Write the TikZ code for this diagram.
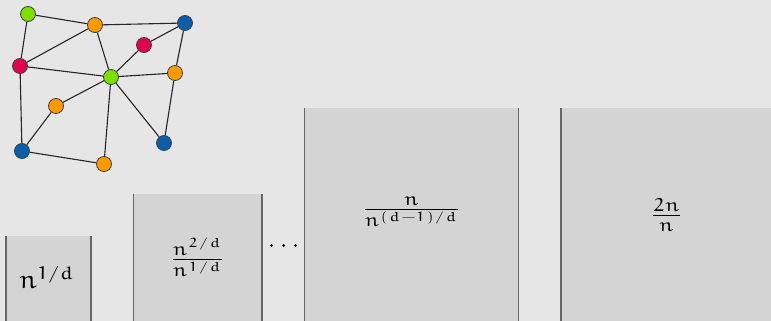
\documentclass[tikz,border=0pt]{standalone}
\usepackage{amsmath}
\usepackage{euler}
\usetikzlibrary{positioning}

\definecolor{bgcol}{HTML}{E6E6E6}
\definecolor{boxcol}{HTML}{D4D4D4}
\definecolor{wallcol}{HTML}{666666}
\definecolor{vgreen}{HTML}{7BE000}
\definecolor{vorange}{HTML}{FF9900}
\definecolor{vblue}{HTML}{0B5EA8}
\definecolor{vred}{HTML}{E0044F}

\newcommand{\bigmath}[2]{\scalebox{#1}{$#2$}}

\begin{document}
\begin{tikzpicture}[x=1pt,y=-1pt,
	vert/.style={circle,draw=black!75,line width=0.8pt,minimum size=15pt,inner sep=0pt},
	edge/.style={draw=black!85,line width=1.1pt},
	wall/.style={draw=wallcol,line width=1.4pt},
	lbl/.style={inner sep=0pt}]
	
	\fill[bgcol] (0,0) rectangle (771,321);
	\useasboundingbox (0,0) rectangle (771,321);
	
	% graph
	\node[vert,fill=vgreen] (g1) at (28,14){};
	\node[vert,fill=vorange] (o1) at (95,25){};
	\node[vert,fill=vblue] (b1) at (185,23){};
	\node[vert,fill=vred] (r1) at (144,45){};
	\node[vert,fill=vred] (r2) at (20,66){};
	\node[vert,fill=vgreen] (g2) at (111,77){};
	\node[vert,fill=vorange] (o2) at (175,73){};
	\node[vert,fill=vorange] (o3) at (56,106){};
	\node[vert,fill=vblue] (b2) at (164,143){};
	\node[vert,fill=vblue] (b3) at (22,151){};
	\node[vert,fill=vorange] (o4) at (104,164){};
	
	\foreach \a/\b in {g1/o1,g1/r2,o1/b1,o1/r2,o1/g2,b1/r1,b1/o2,r1/g2,r2/g2,r2/b3,
		g2/o2,g2/o3,g2/b2,g2/o4,o2/b2,o3/b3,b3/o4}
	{
		\draw[edge] (\a) -- (\b);
	}
	
	% boxes
	\foreach \l/\r/\t in {6/91/236,133.5/262/193.5,304.5/518.5/108,561/790/108}
	{
		\fill[boxcol] (\l,\t) rectangle (\r,321);
		\draw[wall] (\l,\t) -- (\l,321);
		\draw[wall] (\r,\t) -- (\r,321);
	}
	
	\foreach \x in {271.5,283.5,295.5}
	{
		\fill (\x,245.5) circle (1.5pt);
	}
	
	\node[lbl] (q1) at (47,277){\bigmath{2.6}{n^{1/d}}};
	\node[lbl] (q2) at (197.5,257){\bigmath{2.65}{\frac{n^{2/d}}{n^{1/d}}}};
	\node[lbl] (q3) at (411.5,212){\bigmath{2.65}{\frac{n}{n^{(d-1)/d}}}};
	\node[lbl] (q4) at (666.5,215){\bigmath{2.65}{\frac{2n}{n}}};
	
\end{tikzpicture}
\end{document}
